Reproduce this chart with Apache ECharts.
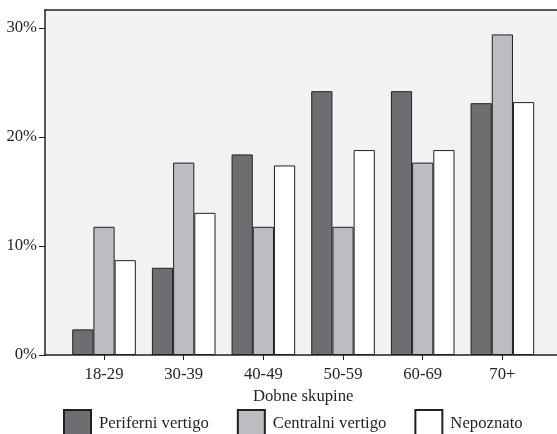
<!DOCTYPE html>
<html>
<head>
<meta charset="utf-8">
<script src="https://cdn.jsdelivr.net/npm/echarts@6/dist/echarts.min.js"></script>
<style>html,body{margin:0;padding:0;background:#fff;overflow:hidden}#c{width:557px;height:434px}</style>
</head>
<body>
<div id="c"></div>
<script>
var categories = ['18-29', '30-39', '40-49', '50-59', '60-69', '70+'];
var periferni = [2.35, 8.0, 18.4, 24.2, 24.2, 23.1];
var centralni = [11.76, 17.65, 11.76, 11.76, 17.65, 29.41];
var nepoznato = [8.7, 13.04, 17.39, 18.8, 18.8, 23.2];
var yTicks = [0, 10, 20, 30];
var seriesNames = ['Periferni vertigo', 'Centralni vertigo', 'Nepoznato'];

var FONT = 'Liberation Serif';
var TXT = '#231f20';
var FS = 16.7;
var YMAX = 31.65;
var chart = echarts.init(document.getElementById('c'));
var barStyle = function (c) { return { color: c, borderColor: '#231f20', borderWidth: 1 }; };
chart.setOption({
  animation: false,
  textStyle: { fontFamily: FONT, color: TXT },
  grid: [
    { left: 45, width: 512, top: 10, bottom: 79, show: true, backgroundColor: '#f1f2f4', borderWidth: 0 },
    { left: 64.2, width: 478, top: 10, bottom: 79 }
  ],
  legend: {
    data: seriesNames, left: 63, top: 409, padding: 0,
    itemWidth: 27, itemHeight: 28, itemGap: 28, icon: 'rect',
    textStyle: { fontFamily: FONT, fontSize: FS, color: TXT, padding: [0, 0, 0, 3] }
  },
  xAxis: [
    { type: 'category', gridIndex: 0, data: categories, position: 'bottom',
      axisLine: { show: true, lineStyle: { color: '#231f20', width: 1.5 } },
      axisTick: { show: false }, axisLabel: { show: false }, splitLine: { show: false } },
    { type: 'category', gridIndex: 0, data: categories, position: 'top',
      axisLine: { show: true, lineStyle: { color: '#231f20', width: 1.5 } },
      axisTick: { show: false }, axisLabel: { show: false }, splitLine: { show: false } },
    { type: 'category', gridIndex: 1, data: categories, position: 'bottom',
      axisLine: { show: false }, axisTick: { show: true, alignWithLabel: true, length: 5, lineStyle: { color: '#231f20' } },
      axisLabel: { fontFamily: FONT, fontSize: FS, color: TXT, margin: 11 },
      name: 'Dobne skupine', nameLocation: 'middle', nameGap: 31,
      nameTextStyle: { fontFamily: FONT, fontSize: FS, color: TXT } }
  ],
  yAxis: [
    { type: 'value', gridIndex: 0, min: 0, max: YMAX, interval: 10,
      axisLine: { show: true, lineStyle: { color: '#231f20', width: 1.5 } },
      axisTick: { show: true, length: 6, customValues: yTicks, lineStyle: { color: '#231f20' } },
      axisLabel: { customValues: yTicks, formatter: '{value}%', fontFamily: FONT, fontSize: FS, color: TXT, margin: 8 },
      splitLine: { show: false } },
    { type: 'value', gridIndex: 1, min: 0, max: YMAX, show: false, splitLine: { show: false } }
  ],
  series: [
    { name: seriesNames[0], type: 'bar', xAxisIndex: 2, yAxisIndex: 1, data: periferni, barWidth: 21.2, barGap: '0%', itemStyle: barStyle('#6d6e71') },
    { name: seriesNames[1], type: 'bar', xAxisIndex: 2, yAxisIndex: 1, data: centralni, barWidth: 21.2, barGap: '0%', itemStyle: barStyle('#bcbdc0') },
    { name: seriesNames[2], type: 'bar', xAxisIndex: 2, yAxisIndex: 1, data: nepoznato, barWidth: 21.2, barGap: '0%', itemStyle: barStyle('#ffffff') }
  ]
});
</script>
</body>
</html>
